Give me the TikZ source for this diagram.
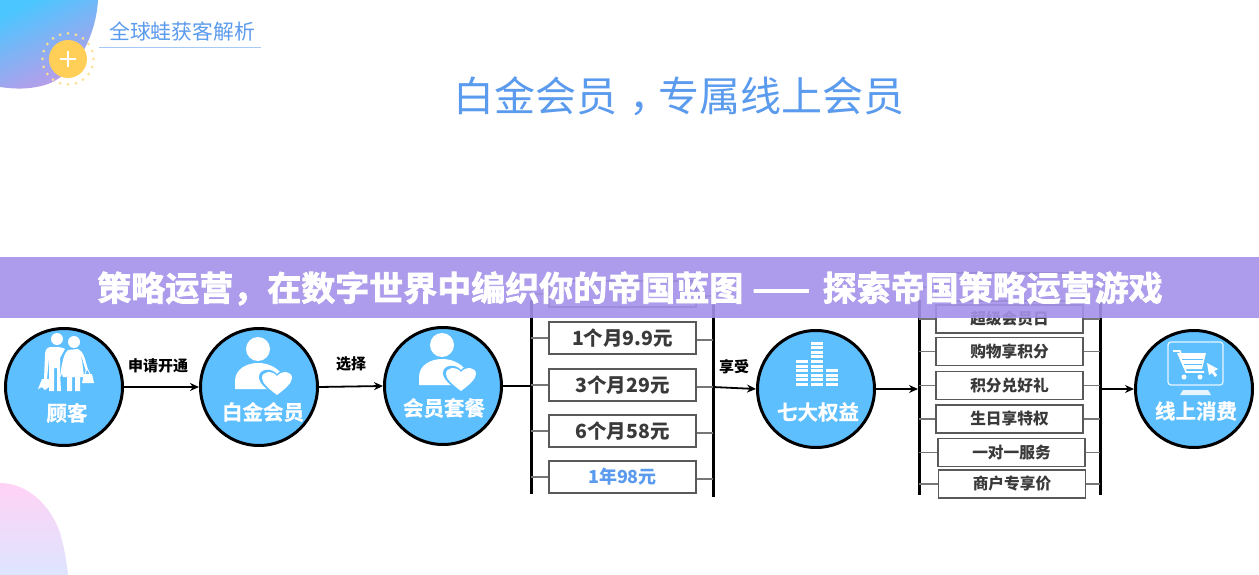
\documentclass[tikz,border=0pt]{standalone}
\usepackage{fontspec}
\setmainfont{Noto Sans CJK SC}
\newfontfamily\heavyfont[FakeBold=2.2]{Noto Sans CJK SC Bold}
\newfontfamily\semiheavy[FakeBold=.8]{Noto Sans CJK SC Bold}
\usetikzlibrary{arrows.meta}
\definecolor{circblue}{HTML}{5EBFFF}
\definecolor{titleblue}{HTML}{5B9BEE}
\definecolor{bandpurple}{HTML}{A492E9}
\definecolor{boxtext}{HTML}{3A3A3A}
\definecolor{tickgray}{HTML}{777777}
\definecolor{cornerA}{HTML}{4CC6FF}
\definecolor{cornerB}{HTML}{C598E6}
\definecolor{pinkA}{HTML}{FFD2F6}
\definecolor{pinkB}{HTML}{DDE5FF}
\definecolor{badge}{HTML}{FFCF57}
\definecolor{badgedot}{HTML}{FBE08F}
\tikzset{
 x=1pt,y=-1pt,
 bubble/.style={circle,draw=black,line width=3pt,fill=circblue,minimum size=117pt,inner sep=0pt},
 bubbletext/.style={text=white,font=\fontsize{20.5}{24}\semiheavy,inner sep=0pt},
 linktext/.style={text=black,font=\fontsize{15}{18}\selectfont\bfseries,inner sep=0pt},
 flow/.style={line width=1.8pt,-{Stealth[length=9pt,width=8pt]}},
 bar/.style={line width=3pt,black},
 tick/.style={line width=1.1pt,tickgray},
 planbox/.style={draw=black!65,line width=1.1pt,fill=white,minimum width=147pt,inner sep=0pt,text=boxtext,font=\fontsize{19.5}{22}\selectfont\bfseries},
 rightsbox/.style={draw=black!65,line width=1.1pt,fill=white,minimum width=147pt,minimum height=28pt,inner sep=0pt,text=boxtext,font=\fontsize{15.7}{18}\selectfont\bfseries},
 heartshape/.pic={
  \fill[circblue] (0,15) .. controls (-9,8) and (-18,2) .. (-18,-5) .. controls (-18,-13) and (-6,-15) .. (0,-8) .. controls (6,-15) and (18,-13) .. (18,-5) .. controls (18,2) and (9,8) .. (0,15) -- cycle;
  \fill[white] (0,13) .. controls (-8,7) and (-15,1) .. (-15,-4) .. controls (-15,-11) and (-5,-12) .. (0,-6) .. controls (5,-12) and (15,-11) .. (15,-4) .. controls (15,1) and (8,7) .. (0,13) -- cycle;
 },
 personheart/.pic={
  \fill[white] (0,0) circle[radius=12];
  \fill[white] (-23,40) -- (-23,32) .. controls (-23,20) and (-11,14) .. (0,14) .. controls (12,14) and (22,20) .. (27,30) -- (27,40) -- cycle;
  \pic at (19,33) {heartshape};
 },
}
\begin{document}
\begin{tikzpicture}
\useasboundingbox (0,0) rectangle (1259,575);
\fill[white] (0,0) rectangle (1259,575);

% corner shapes
\shade[top color=cornerA,bottom color=cornerB,shading angle=25]
 (0,0) -- (98,0) .. controls (96,35) and (78,72) .. (48,84) .. controls (30,90) and (14,89) .. (0,87) -- cycle;
\shade[top color=pinkA,bottom color=pinkB]
 (0,483) .. controls (30,483) and (55,510) .. (62,540) .. controls (65,552) and (67,565) .. (68,575) -- (0,575) -- cycle;

% yellow badge
\foreach \a in {0,18,...,342}{\fill[badgedot] (68,59)++(\a:25.5) circle[radius=1.5];}
\fill[badge] (68,59) circle[radius=19];
\draw[white,line width=2.6pt] (60,59) -- (76,59) (68,51) -- (68,67);

% headings
\node[inner sep=0pt,text=titleblue,font=\fontsize{20.8}{24}\selectfont] (subtitle) at (182,32) {全球蛙获客解析};
\draw[color=titleblue!55,line width=1pt] (99,48) -- (261,48);
\node[inner sep=0pt,text=titleblue,font=\fontsize{41}{46}\selectfont] (headline) at (679,96) {白金会员\kern.3em ，\kern-.3em 专属线上会员};

% bubbles
\node[bubble] (c1) at (64,387) {};
\node[bubble] (c2) at (259,387) {};
\node[bubble] (c3) at (443,386) {};
\node[bubble] (c4) at (816,389) {};
\node[bubble] (c5) at (1194,389) {};
\node[bubbletext] (l1) at (67,413) {顾客};
\node[bubbletext] (l2) at (263,412) {白金会员};
\node[bubbletext] (l3) at (444,408) {会员套餐};
\node[bubbletext] (l4) at (818,412) {七大权益};
\node[bubbletext] (l5) at (1196,411) {线上消费};

% couple icon
\fill[white] (57,339) circle[radius=6];
\fill[white] (74,342) circle[radius=6];
\fill[white] (50,347) .. controls (46,348) and (45,351) .. (45,356) -- (44,379) -- (47,379) -- (49,358) -- (49,391) -- (54,391) -- (54,368) -- (57,368) -- (57,391) -- (61,391) -- (60,372) -- (60,358) -- (65,349) .. controls (62,347) and (58,347) .. (50,347) -- cycle;
\fill[white] (68,350) .. controls (64,353) and (62,362) .. (60,377) -- (67,377) -- (67,391) -- (72,391) -- (72,377) -- (75,377) -- (75,391) -- (80,391) -- (80,377) -- (84,377) .. controls (83,367) and (82,360) .. (80,352) -- (86,371) -- (88,370) .. controls (85,358) and (83,351) .. (78,349) -- cycle;
\fill[circblue] (62,374) -- (63,378) -- (60,378) -- cycle;
\fill[white] (38,389) -- (42,379) -- (49,379) -- (53,389) -- (49,387) -- (45,390) -- (42,387) -- cycle;
\fill[white] (82,383) -- (84,374) -- (92,374) -- (94,383) -- cycle;
\draw[white,line width=.8pt] (85,374) -- (87,368) -- (90,374);

% person + heart icons
\pic at (258,349) {personheart};
\pic at (442,345) {personheart};

% bars icon
\foreach \cx/\top in {802/361,817/341,832/369}{
 \foreach \k in {0,...,10}{
  \pgfmathsetmacro{\yy}{386-\k*4.6}
  \pgfmathparse{\yy>=\top-1?1:0}
  \ifnum\pgfmathresult=1
   \fill[white] (\cx-6,\yy-3) rectangle (\cx+6,\yy);
  \fi
 }
}

% cart icon
\draw[white!85!circblue,line width=1.2pt,rounded corners=3pt] (1168,342) rectangle (1223,385);
\fill[white!85!circblue] (1183,390) -- (1208,390) -- (1211,395) -- (1180,395) -- cycle;
\draw[white,line width=1.8pt,line join=round] (1173,351) -- (1180,351) -- (1186,372) -- (1204,372);
\fill[white] (1177,353) -- (1206,353) -- (1202,369) -- (1184,369) -- cycle;
\draw[circblue,line width=1pt] (1182,359) -- (1203,359) (1184,364) -- (1202,364);
\fill[white] (1184,377) circle[radius=2.5] (1200,377) circle[radius=2.5];
\fill[white] (1207,363) -- (1218,369) -- (1214,371) -- (1217,375) -- (1215,377) -- (1212,373) -- (1209,375) -- cycle;

% list bars
\coordinate (barLa) at (531,300);
\coordinate (barLb) at (531,494);
\coordinate (barRa) at (713,300);
\coordinate (barRb) at (713,497);
\coordinate (barMa) at (919,300);
\coordinate (barMb) at (919,495);
\coordinate (barNa) at (1100,300);
\coordinate (barNb) at (1100,495);
\draw[bar] (barLa) -- (barLb);
\draw[bar] (barRa) -- (barRb);
\draw[bar] (barMa) -- (barMb);
\draw[bar] (barNa) -- (barNb);

\node[planbox,minimum height=26pt] (p0) at (622.5,294) {};
\node[planbox,minimum height=32pt] (p1) at (622.5,338) {1个月9.9元};
\node[planbox,minimum height=32pt] (p2) at (622.5,385) {3个月29元};
\node[planbox,minimum height=32pt] (p3) at (622.5,431) {6个月58元};
\node[planbox,minimum height=32pt,text=titleblue,font=\fontsize{18}{20}\selectfont\bfseries] (p4) at (622.5,477) {1年98元};
\foreach \n in {p0,p1,p2,p3,p4}{
 \draw[tick] (\n.west) -- (\n.west -| barLa);
 \draw[tick] ([yshift=-2pt]\n.east) -- ([yshift=-2pt]\n.east -| barRa);
}

\node[rightsbox] (r0) at (1009.5,287) {};
\node[rightsbox] (r1) at (1009.5,319) {超级会员日};
\node[rightsbox] (r2) at (1009.5,351.5) {购物享积分};
\node[rightsbox] (r3) at (1009.5,385.5) {积分兑好礼};
\node[rightsbox] (r4) at (1009.5,419) {生日享特权};
\node[rightsbox] (r5) at (1011.5,452.5) {一对一服务};
\node[rightsbox] (r6) at (1012,484) {商户专享价};
\foreach \n in {r0,r1,r2,r3,r4,r5,r6}{
 \draw[tick] (\n.west) -- (\n.west -| barMa);
 \draw[tick] (\n.east) -- (\n.east -| barNa);
}

% connectors
\draw[flow] (c1) -- (c2);
\draw[flow] (c2.east) -- (c3.west);
\coordinate (in1) at (531,386);
\draw[line width=1.8pt] (c3.east) -- (in1);
\coordinate (out1) at (713,387);
\draw[flow] (out1) -- (c4.west);
\coordinate (in2) at (918,389);
\draw[flow] (c4) -- (in2);
\coordinate (out2) at (1102,389);
\draw[flow] (out2) -- (c5);

\node[linktext] (t1) at (158,366) {申请开通};
\node[linktext] (t2) at (351,364) {选择};
\node[linktext] (t3) at (734,367) {享受};

% banner
\fill[bandpurple,fill opacity=.9] (0,257) rectangle (1259,318);
\node[inner sep=0pt,text=white,font=\fontsize{34}{38}\heavyfont] (banner) at (630,288.5) {策略运营，在数字世界中编织你的帝国蓝图\kern.04em\ ——\kern.14em\ 探索帝国策略运营游戏};
\end{tikzpicture}
\end{document}
